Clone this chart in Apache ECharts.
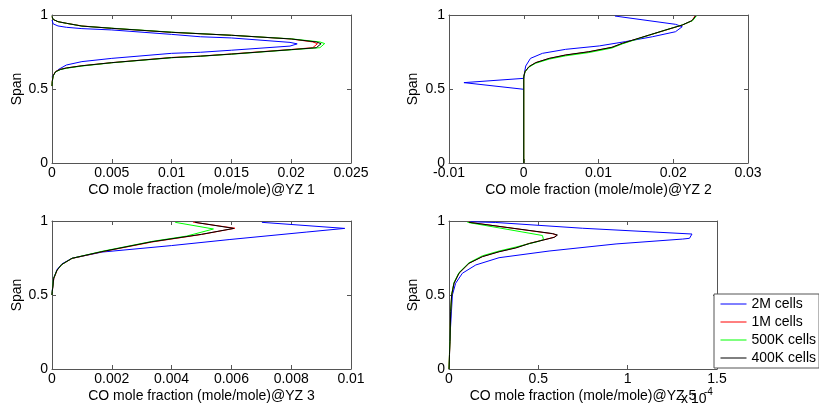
<!DOCTYPE html>
<html><head><meta charset="utf-8">
<script src="https://cdn.jsdelivr.net/npm/echarts@6/dist/echarts.min.js"></script>
<style>html,body{margin:0;padding:0;background:#fff}#c{width:819px;height:412px}</style>
</head><body><div id="c"></div>
<script>
// ---- labels / ticks ----
const seriesNames = ['2M cells', '1M cells', '500K cells', '400K cells'];
const seriesColors = ['#0000ff', '#ff0000', '#00ff00', '#000000'];
const xTitles = ['CO mole fraction (mole/mole)@YZ 1', 'CO mole fraction (mole/mole)@YZ 2',
                 'CO mole fraction (mole/mole)@YZ 3', 'CO mole fraction (mole/mole)@YZ 5'];
const yTitle = 'Span';
const xTicks1 = [0, 0.025, 0.005];
const xTicks2 = [-0.01, 0.03, 0.01];
const xTicks3 = [0, 0.01, 0.002];
const xTicks4 = [0, 1.5, 0.5];
const yTicks = [0, 1, 0.5];
const exponentText = ['x', '10', '-4'];

// ---- YZ 1 ----
const yz1_2M = [[0,0.58],[0.0001,0.595],[0.0005,0.63],[0.0012,0.662],[0.0025,0.685],[0.005,0.707],[0.01,0.741],[0.0124,0.748],[0.015,0.762],[0.0199,0.79],[0.0205,0.805],[0.0199,0.815],[0.015,0.845],[0.0124,0.853],[0.01,0.869],[0.005,0.899],[0.0025,0.908],[0.0012,0.917],[0.0005,0.926],[0.0001,0.94],[0,0.966]];
const yz1_1M = [[0,0.52],[0.00002,0.552],[0.0001,0.592],[0.0003,0.618],[0.0007,0.633],[0.0012,0.642],[0.0025,0.657],[0.005,0.678],[0.01,0.713],[0.0124,0.722],[0.015,0.737],[0.02,0.767],[0.0218,0.779],[0.0222,0.806],[0.0218,0.818],[0.02,0.838],[0.015,0.863],[0.01,0.883],[0.005,0.91],[0.0025,0.926],[0.0012,0.944],[0.0005,0.955],[0.0001,0.97],[0,0.989]];
const yz1_500K = [[0,0.52],[0.00002,0.548],[0.0001,0.588],[0.0003,0.616],[0.0007,0.631],[0.0012,0.64],[0.0025,0.655],[0.005,0.677],[0.01,0.711],[0.0124,0.721],[0.015,0.735],[0.02,0.765],[0.0224,0.779],[0.0228,0.807],[0.0224,0.818],[0.02,0.839],[0.015,0.863],[0.01,0.884],[0.005,0.911],[0.0025,0.925],[0.0012,0.944],[0.0005,0.955],[0.0001,0.97],[0,0.99]];
const yz1_400K = [[0,0.52],[0.00002,0.55],[0.0001,0.59],[0.0003,0.617],[0.0007,0.632],[0.0012,0.642],[0.0025,0.657],[0.005,0.678],[0.01,0.712],[0.0124,0.722],[0.015,0.736],[0.02,0.766],[0.0221,0.779],[0.0225,0.806],[0.0221,0.818],[0.02,0.838],[0.015,0.863],[0.01,0.883],[0.005,0.91],[0.0025,0.925],[0.0012,0.944],[0.0005,0.955],[0.0001,0.97],[0,0.989]];

// ---- YZ 2 ----
const yz2_2M = [[0,0.498],[-0.008,0.543],[0,0.572],[0.0001,0.61],[0.00026,0.655],[0.0009,0.707],[0.0025,0.741],[0.0056,0.768],[0.0101,0.791],[0.0136,0.82],[0.0172,0.853],[0.0203,0.887],[0.0212,0.921],[0.0203,0.937],[0.0122,0.993]];
const yz2_1M = [[0,0],[0,0.583],[0.00017,0.617],[0.0007,0.651],[0.0016,0.678],[0.0034,0.706],[0.0056,0.729],[0.0087,0.751],[0.0118,0.781],[0.0132,0.808],[0.0168,0.864],[0.019,0.898],[0.0212,0.932],[0.0225,0.961],[0.0229,0.993]];
const yz2_500K = [[0,0],[0,0.583],[0.00017,0.615],[0.0007,0.648],[0.0016,0.674],[0.0034,0.702],[0.0056,0.724],[0.0087,0.746],[0.0118,0.777],[0.0132,0.805],[0.0168,0.864],[0.019,0.899],[0.0212,0.933],[0.0226,0.962],[0.0231,0.994]];
const yz2_400K = [[0,0],[0,0.583],[0.00017,0.617],[0.0007,0.651],[0.0016,0.678],[0.0034,0.707],[0.0056,0.73],[0.0087,0.752],[0.0118,0.782],[0.0132,0.809],[0.0168,0.865],[0.019,0.899],[0.0212,0.932],[0.0225,0.962],[0.023,0.993]];

// ---- YZ 3 ----
const yz3_2M = [[0,0.5],[0.00001,0.53],[0.00006,0.615],[0.00017,0.672],[0.00033,0.71],[0.00067,0.748],[0.00167,0.79],[0.004,0.834],[0.00595,0.875],[0.0085,0.925],[0.00979,0.95],[0.00702,0.991]];
const yz3_1M = [[0,0.5],[0.00001,0.525],[0.00006,0.61],[0.00017,0.667],[0.00033,0.706],[0.00067,0.747],[0.00167,0.792],[0.00334,0.858],[0.005,0.909],[0.00612,0.951],[0.00472,0.992]];
const yz3_500K = [[0,0.5],[0.00001,0.53],[0.00005,0.61],[0.00016,0.665],[0.00033,0.706],[0.00067,0.748],[0.00167,0.795],[0.00334,0.862],[0.0045,0.898],[0.0054,0.946],[0.00412,0.991]];
const yz3_400K = [[0,0.5],[0.00001,0.522],[0.000056,0.613],[0.00017,0.669],[0.00033,0.707],[0.00067,0.748],[0.00167,0.793],[0.00334,0.86],[0.005,0.91],[0.00608,0.95],[0.00479,0.991]];

// ---- YZ 5 (values in 1e-4) ----
const yz5_2M = [[0.003,0.17],[0.0093,0.297],[0.019,0.5],[0.037,0.579],[0.075,0.647],[0.15,0.703],[0.28,0.752],[0.56,0.797],[0.935,0.845],[1.308,0.878],[1.346,0.883],[1.36,0.912],[0.748,0.951],[0.262,0.99],[0.12,0.995]];
const yz5_1M = [[0,0],[0.003,0.11],[0.0056,0.19],[0.0093,0.388],[0.015,0.502],[0.028,0.58],[0.056,0.648],[0.112,0.715],[0.187,0.76],[0.28,0.793],[0.374,0.819],[0.45,0.849],[0.588,0.89],[0.604,0.905],[0.578,0.914],[0.108,0.992]];
const yz5_500K = [[0,0],[0.003,0.12],[0.0056,0.2],[0.0093,0.39],[0.015,0.505],[0.028,0.585],[0.056,0.652],[0.112,0.718],[0.187,0.765],[0.28,0.797],[0.374,0.824],[0.5,0.862],[0.529,0.875],[0.523,0.902],[0.103,0.991]];
const yz5_400K = [[0,0],[0.003,0.1],[0.0056,0.185],[0.0093,0.387],[0.015,0.5],[0.028,0.579],[0.056,0.647],[0.112,0.714],[0.187,0.759],[0.28,0.792],[0.374,0.818],[0.45,0.848],[0.59,0.89],[0.607,0.905],[0.58,0.915],[0.112,0.991]];

const panels = [
  {ticks: xTicks1, data: [yz1_2M, yz1_1M, yz1_500K, yz1_400K]},
  {ticks: xTicks2, data: [yz2_2M, yz2_1M, yz2_500K, yz2_400K]},
  {ticks: xTicks3, data: [yz3_2M, yz3_1M, yz3_500K, yz3_400K]},
  {ticks: xTicks4, data: [yz5_2M, yz5_1M, yz5_500K, yz5_400K]}
];

// ---- layout ----
const FONT = 'Liberation Sans, Arial, Helvetica, sans-serif';
const AX = '#555';
const gridBoxes = [
  {left: 52, top: 15, width: 299, height: 148},
  {left: 449, top: 15, width: 299, height: 148},
  {left: 52, top: 221, width: 299, height: 148},
  {left: 449, top: 221, width: 268, height: 148}
];
const yNameGaps = [26, 29, 26, 29];
const fmt = v => String(+v.toFixed(6));

const grid = [], xAxis = [], yAxis = [], series = [];
panels.forEach((p, i) => {
  grid.push(Object.assign({outerBoundsMode: 'none', containLabel: false}, gridBoxes[i]));
  const common = {
    type: 'value', gridIndex: i, min: p.ticks[0], max: p.ticks[1], interval: p.ticks[2],
    axisLine: {show: true, onZero: false, lineStyle: {color: AX, width: 1}},
    axisTick: {show: true, inside: true, length: 4, lineStyle: {color: AX}},
    splitLine: {show: false}
  };
  xAxis.push(Object.assign({}, common, {
    position: 'bottom', name: xTitles[i], nameLocation: 'middle', nameGap: 20,
    nameTextStyle: {fontFamily: FONT, fontSize: 14, color: '#000'},
    axisLabel: {show: true, margin: 3, fontFamily: FONT, fontSize: 14, color: '#000', formatter: fmt}
  }));
  xAxis.push(Object.assign({}, common, {position: 'top', axisLabel: {show: false}}));
  const ycommon = Object.assign({}, common, {min: yTicks[0], max: yTicks[1], interval: yTicks[2]});
  yAxis.push(Object.assign({}, ycommon, {
    position: 'left', name: yTitle, nameLocation: 'middle', nameGap: yNameGaps[i],
    nameTextStyle: {fontFamily: FONT, fontSize: 14, color: '#000'},
    axisLabel: {show: true, margin: 4, fontFamily: FONT, fontSize: 14, color: '#000', formatter: fmt}
  }));
  yAxis.push(Object.assign({}, ycommon, {position: 'right', axisLabel: {show: false}}));
  p.data.forEach((d, k) => {
    series.push({
      type: 'line', name: seriesNames[k], xAxisIndex: 2 * i, yAxisIndex: 2 * i,
      data: d, symbol: 'none', showSymbol: false, smooth: false, animation: false,
      lineStyle: {color: seriesColors[k], width: 1}, itemStyle: {color: seriesColors[k]},
      z: 2 + k, silent: true
    });
  });
});

const option = {
  animation: false,
  backgroundColor: '#fff',
  textStyle: {fontFamily: FONT},
  grid, xAxis, yAxis, series,
  legend: {
    data: seriesNames, orient: 'vertical', left: 714, top: 294,
    backgroundColor: '#fff', borderColor: AX, borderWidth: 1, padding: [3, 3, 3, 6],
    itemWidth: 26, itemHeight: 14, itemGap: 4, selectedMode: false,
    itemStyle: {color: 'rgba(0,0,0,0)', borderColor: 'rgba(0,0,0,0)', borderWidth: 0, opacity: 0},
    lineStyle: {width: 1},
    textStyle: {fontFamily: FONT, fontSize: 14, color: '#000', lineHeight: 14}
  },
  graphic: [
    {type: 'text', left: 681, top: 392, style: {text: exponentText[0], font: '14px ' + FONT, fill: '#000'}},
    {type: 'text', left: 691, top: 392, style: {text: exponentText[1], font: '14px ' + FONT, fill: '#000'}},
    {type: 'text', left: 704, top: 387, style: {text: exponentText[2], font: '10px ' + FONT, fill: '#000'}}
  ]
};
const chart = echarts.init(document.getElementById('c'), null, {renderer: 'canvas'});
chart.setOption(option);
</script></body></html>
